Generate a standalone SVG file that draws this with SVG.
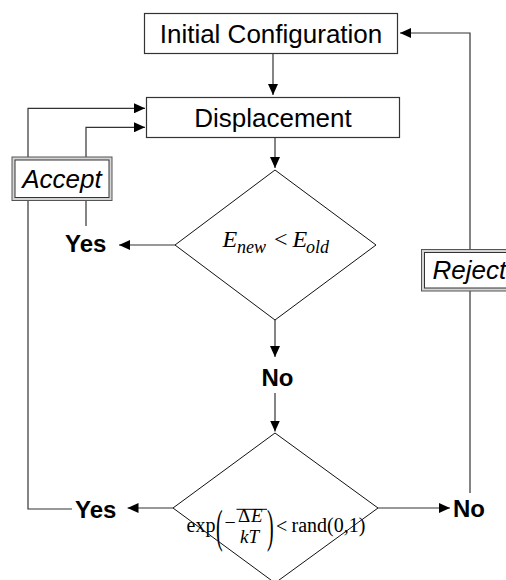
<svg xmlns="http://www.w3.org/2000/svg" width="506" height="580" viewBox="0 0 506 580">
<defs>
<marker id="ah" markerUnits="userSpaceOnUse" markerWidth="11" markerHeight="10" refX="11" refY="5" orient="auto">
<path d="M0,0 L11,5 L0,10 Z" fill="#000"/>
</marker>
<style>
.box{fill:#fff;stroke:#333;stroke-width:1.2}
.dia{fill:none;stroke:#111;stroke-width:1}
.outer{fill:#d4d4d4;stroke:#555;stroke-width:1}
.inner{fill:#fff;stroke:#333;stroke-width:1}
.lbl{font-family:"Liberation Sans",Arial,sans-serif;font-size:26px;fill:#000}
.it{font-family:"Liberation Sans",Arial,sans-serif;font-size:26px;font-style:italic;fill:#000}
.b{font-family:"Liberation Sans",Arial,sans-serif;font-size:24px;font-weight:bold;fill:#000}
.m{font-family:"Liberation Serif","Times New Roman",serif;fill:#000}
.c{fill:none;stroke:#333;stroke-width:1.2}
</style>
</defs>
<rect width="506" height="580" fill="#fff"/>
<g id="connectors">
<path class="c" d="M273,53.5 V95" marker-end="url(#ah)"/>
<path class="c" d="M275,137.5 V168" marker-end="url(#ah)"/>
<path class="c" d="M175,245 H119" marker-end="url(#ah)"/>
<path class="c" d="M86,226 V200.5"/>
<path class="c" d="M86,157 V127.3 H145" marker-end="url(#ah)"/>
<path class="c" d="M72,509 H28 V200.5"/>
<path class="c" d="M28,157 V108.3 H145" marker-end="url(#ah)"/>
<path class="c" d="M275,320 V357" marker-end="url(#ah)"/>
<path class="c" d="M275,393 V431.5" marker-end="url(#ah)"/>
<path class="c" d="M173,508 H127.5" marker-end="url(#ah)"/>
<path class="c" d="M378,508 H450" marker-end="url(#ah)"/>
<path class="c" d="M470,493 V291"/>
<path class="c" d="M470,249.5 V33 H400" marker-end="url(#ah)"/>
</g>
<g id="initial">
<rect class="box" x="144.5" y="13.5" width="253" height="40"/>
<text class="lbl" x="271" y="43" text-anchor="middle">Initial Configuration</text>
</g>
<g id="displacement">
<rect class="box" x="146.5" y="97.5" width="253" height="40"/>
<text class="lbl" x="273" y="127" text-anchor="middle">Displacement</text>
</g>
<g id="accept">
<rect class="outer" x="12" y="157" width="100" height="43.5"/>
<rect class="inner" x="15" y="160" width="94" height="37.5"/>
<text class="it" x="62" y="187.5" text-anchor="middle">Accept</text>
</g>
<g id="reject">
<rect class="outer" x="421.5" y="249.5" width="100" height="41.5"/>
<rect class="inner" x="424.5" y="252.5" width="94" height="35.5"/>
<text class="it" x="432.5" y="279">Reject</text>
</g>
<g id="decision1">
<polygon class="dia" points="275,170 376,245 275,320 175,245"/>
<text class="m" font-size="24" font-style="italic" x="222.5" y="246.5">E</text>
<text class="m" font-size="18" font-style="italic" x="237" y="253">new</text>
<text class="m" font-size="24" x="274" y="246.5">&lt;</text>
<text class="m" font-size="24" font-style="italic" x="292.5" y="246.5">E</text>
<text class="m" font-size="18" font-style="italic" x="306" y="253">old</text>
</g>
<g id="yes1"><text class="b" x="65" y="252">Yes</text></g>
<g id="no1"><text class="b" x="277.5" y="386" text-anchor="middle">No</text></g>
<g id="decision2">
<text class="m" font-size="20" x="186.5" y="531.5">exp</text>
<text class="m" font-size="20" transform="translate(216,542) scale(1,2.3)" x="0" y="0">(</text>
<text class="m" font-size="20" x="224.5" y="529">−</text>
<text class="m" font-size="19" x="238" y="521.5">Δ</text>
<text class="m" font-size="19" font-style="italic" x="251" y="521.5">E</text>
<line x1="236.5" y1="509.3" x2="267" y2="509.3" stroke="#000" stroke-width="1"/>
<text class="m" font-size="19" font-style="italic" x="240" y="542.5">kT</text>
<text class="m" font-size="20" transform="translate(267,542) scale(1,2.3)" x="0" y="0">)</text>
<text class="m" font-size="20" x="276" y="533">&lt;</text>
<text class="m" font-size="20" x="291.5" y="531.5">rand(0,1)</text>
<polygon class="dia" points="275,433 378,508 275,583 173,508"/>
</g>
<g id="yes2"><text class="b" x="75" y="517.5">Yes</text></g>
<g id="no2"><text class="b" x="453" y="517">No</text></g>
</svg>
